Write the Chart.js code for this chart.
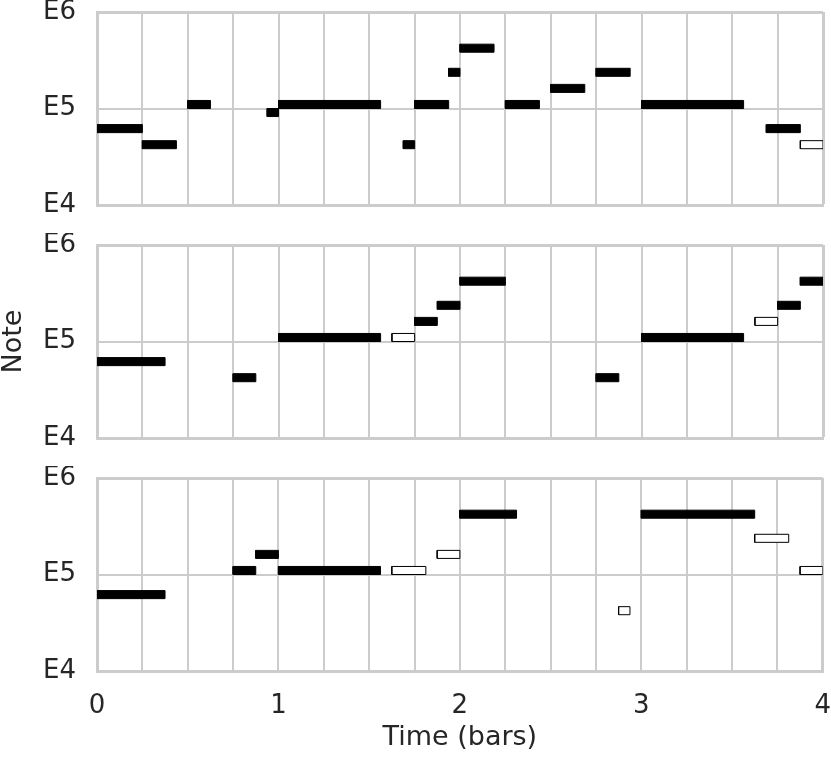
<!DOCTYPE html>
<html>
<head>
<meta charset="utf-8">
<script src="https://cdn.jsdelivr.net/npm/chart.js@4.4.1/dist/chart.umd.min.js"></script>
<style>
  body { margin: 0; background: #fff; }
  #wrap { position: relative; width: 831px; height: 762px; }
  canvas { position: absolute; left: 0; }
</style>
</head>
<body>
<div id="wrap">
  <canvas id="roll1" width="831" height="225" style="top:0px"></canvas>
  <canvas id="roll2" width="831" height="225" style="top:233px"></canvas>
  <canvas id="roll3" width="831" height="296" style="top:466px"></canvas>
</div>
<script>
// axis ticks
const pitchTicks = [64, 76, 88];
const pitchNames = ['E4', 'E5', 'E6'];
const barTicks = [0, 1, 2, 3, 4];
const barNames = ['0', '1', '2', '3', '4'];

// roll 1 (time in bars, pitch as midi number)
const roll1Start = [0, 0.25, 0.5, 0.9375, 1, 1.6875, 1.75, 1.9375, 2, 2.25, 2.5, 2.75, 3, 3.6875, 3.875];
const roll1End   = [0.25, 0.4375, 0.625, 1, 1.5625, 1.75, 1.9375, 2, 2.1875, 2.4375, 2.6875, 2.9375, 3.5625, 3.875, 4];
const roll1Pitch = [73, 71, 76, 75, 76, 71, 76, 80, 83, 76, 78, 80, 76, 73, 71];
const roll1Open  = [0, 0, 0, 0, 0, 0, 0, 0, 0, 0, 0, 0, 0, 0, 1];

// roll 2
const roll2Start = [0, 0.75, 1, 1.625, 1.75, 1.875, 2, 2.75, 3, 3.625, 3.75, 3.875];
const roll2End   = [0.375, 0.875, 1.5625, 1.75, 1.875, 2, 2.25, 2.875, 3.5625, 3.75, 3.875, 4];
const roll2Pitch = [73, 71, 76, 76, 78, 80, 83, 71, 76, 78, 80, 83];
const roll2Open  = [0, 0, 0, 1, 0, 0, 0, 0, 0, 1, 0, 0];

// roll 3
const roll3Start = [0, 0.75, 0.875, 1, 1.625, 1.875, 2, 2.875, 3, 3.625, 3.875];
const roll3End   = [0.375, 0.875, 1, 1.5625, 1.8125, 2, 2.3125, 2.9375, 3.625, 3.8125, 4];
const roll3Pitch = [73, 76, 78, 76, 76, 78, 83, 71, 83, 80, 76];
const roll3Open  = [0, 0, 0, 0, 1, 1, 0, 1, 0, 1, 1];

const GRID = '#cccccc';
const INK = '#262626';
const FONT = 'DejaVu Sans';

// each note = closed rectangle from start..end, pitch..pitch+1
function noteSets(starts, ends, pitches, open) {
  return pitches.map((p, i) => ({
    data: [
      { x: starts[i], y: p }, { x: ends[i], y: p },
      { x: ends[i], y: p + 1 }, { x: starts[i], y: p + 1 },
      { x: starts[i], y: p }
    ],
    showLine: true,
    fill: 'shape',
    tension: 0,
    pointRadius: 0,
    borderColor: '#000',
    borderWidth: 1,
    backgroundColor: open[i] ? '#fff' : '#000'
  }));
}

// tick gaps are done with invisible tick marks, so the layout does not pad the area
function rollOptions(bottom, ylabel) {
  return {
    responsive: false,
    animation: false,
    devicePixelRatio: 1,
    layout: { padding: { top: 12, right: 8, left: 0, bottom: bottom ? 0 : 20 } },
    plugins: { legend: { display: false }, tooltip: { enabled: false } },
    scales: {
      x: {
        type: 'linear', min: 0, max: 4,
        ticks: {
          display: bottom, stepSize: 0.25, autoSkip: false, maxRotation: 0,
          padding: 0, color: INK, font: { family: FONT, size: 26, lineHeight: 0.9 },
          callback: v => barTicks.includes(v) ? barNames[barTicks.indexOf(v)] : ''
        },
        grid: {
          color: GRID, drawTicks: bottom, tickLength: 24, tickColor: 'rgba(0,0,0,0)',
          lineWidth: c => (c.tick && c.tick.value === 4) ? 3 : 2
        },
        border: { color: GRID, width: 3 },
        title: {
          display: bottom, text: 'Time (bars)', color: INK,
          font: { family: FONT, size: 27, lineHeight: 1 }, padding: { bottom: 11 }
        },
        afterFit: s => { s.height = bottom ? 91 : 0; }
      },
      y: {
        type: 'linear', min: 64, max: 88,
        ticks: {
          stepSize: 12, padding: 0, color: INK,
          font: { family: FONT, size: 26, lineHeight: 0.9 },
          callback: v => pitchTicks.includes(v) ? pitchNames[pitchTicks.indexOf(v)] : ''
        },
        grid: {
          color: GRID, drawTicks: true, tickLength: 21, tickColor: 'rgba(0,0,0,0)',
          lineWidth: c => (c.tick && c.tick.value === 88) ? 3 : 2
        },
        border: { color: GRID, width: 3 },
        title: {
          display: ylabel, text: 'Note', color: INK,
          font: { family: FONT, size: 27, lineHeight: 1 }, padding: { top: 0 }
        },
        afterFit: s => { s.width = 97; }
      }
    }
  };
}

new Chart(document.getElementById('roll1'), {
  type: 'scatter',
  data: { datasets: noteSets(roll1Start, roll1End, roll1Pitch, roll1Open) },
  options: rollOptions(false, false)
});
new Chart(document.getElementById('roll2'), {
  type: 'scatter',
  data: { datasets: noteSets(roll2Start, roll2End, roll2Pitch, roll2Open) },
  options: rollOptions(false, true)
});
new Chart(document.getElementById('roll3'), {
  type: 'scatter',
  data: { datasets: noteSets(roll3Start, roll3End, roll3Pitch, roll3Open) },
  options: rollOptions(true, false)
});
</script>
</body>
</html>
